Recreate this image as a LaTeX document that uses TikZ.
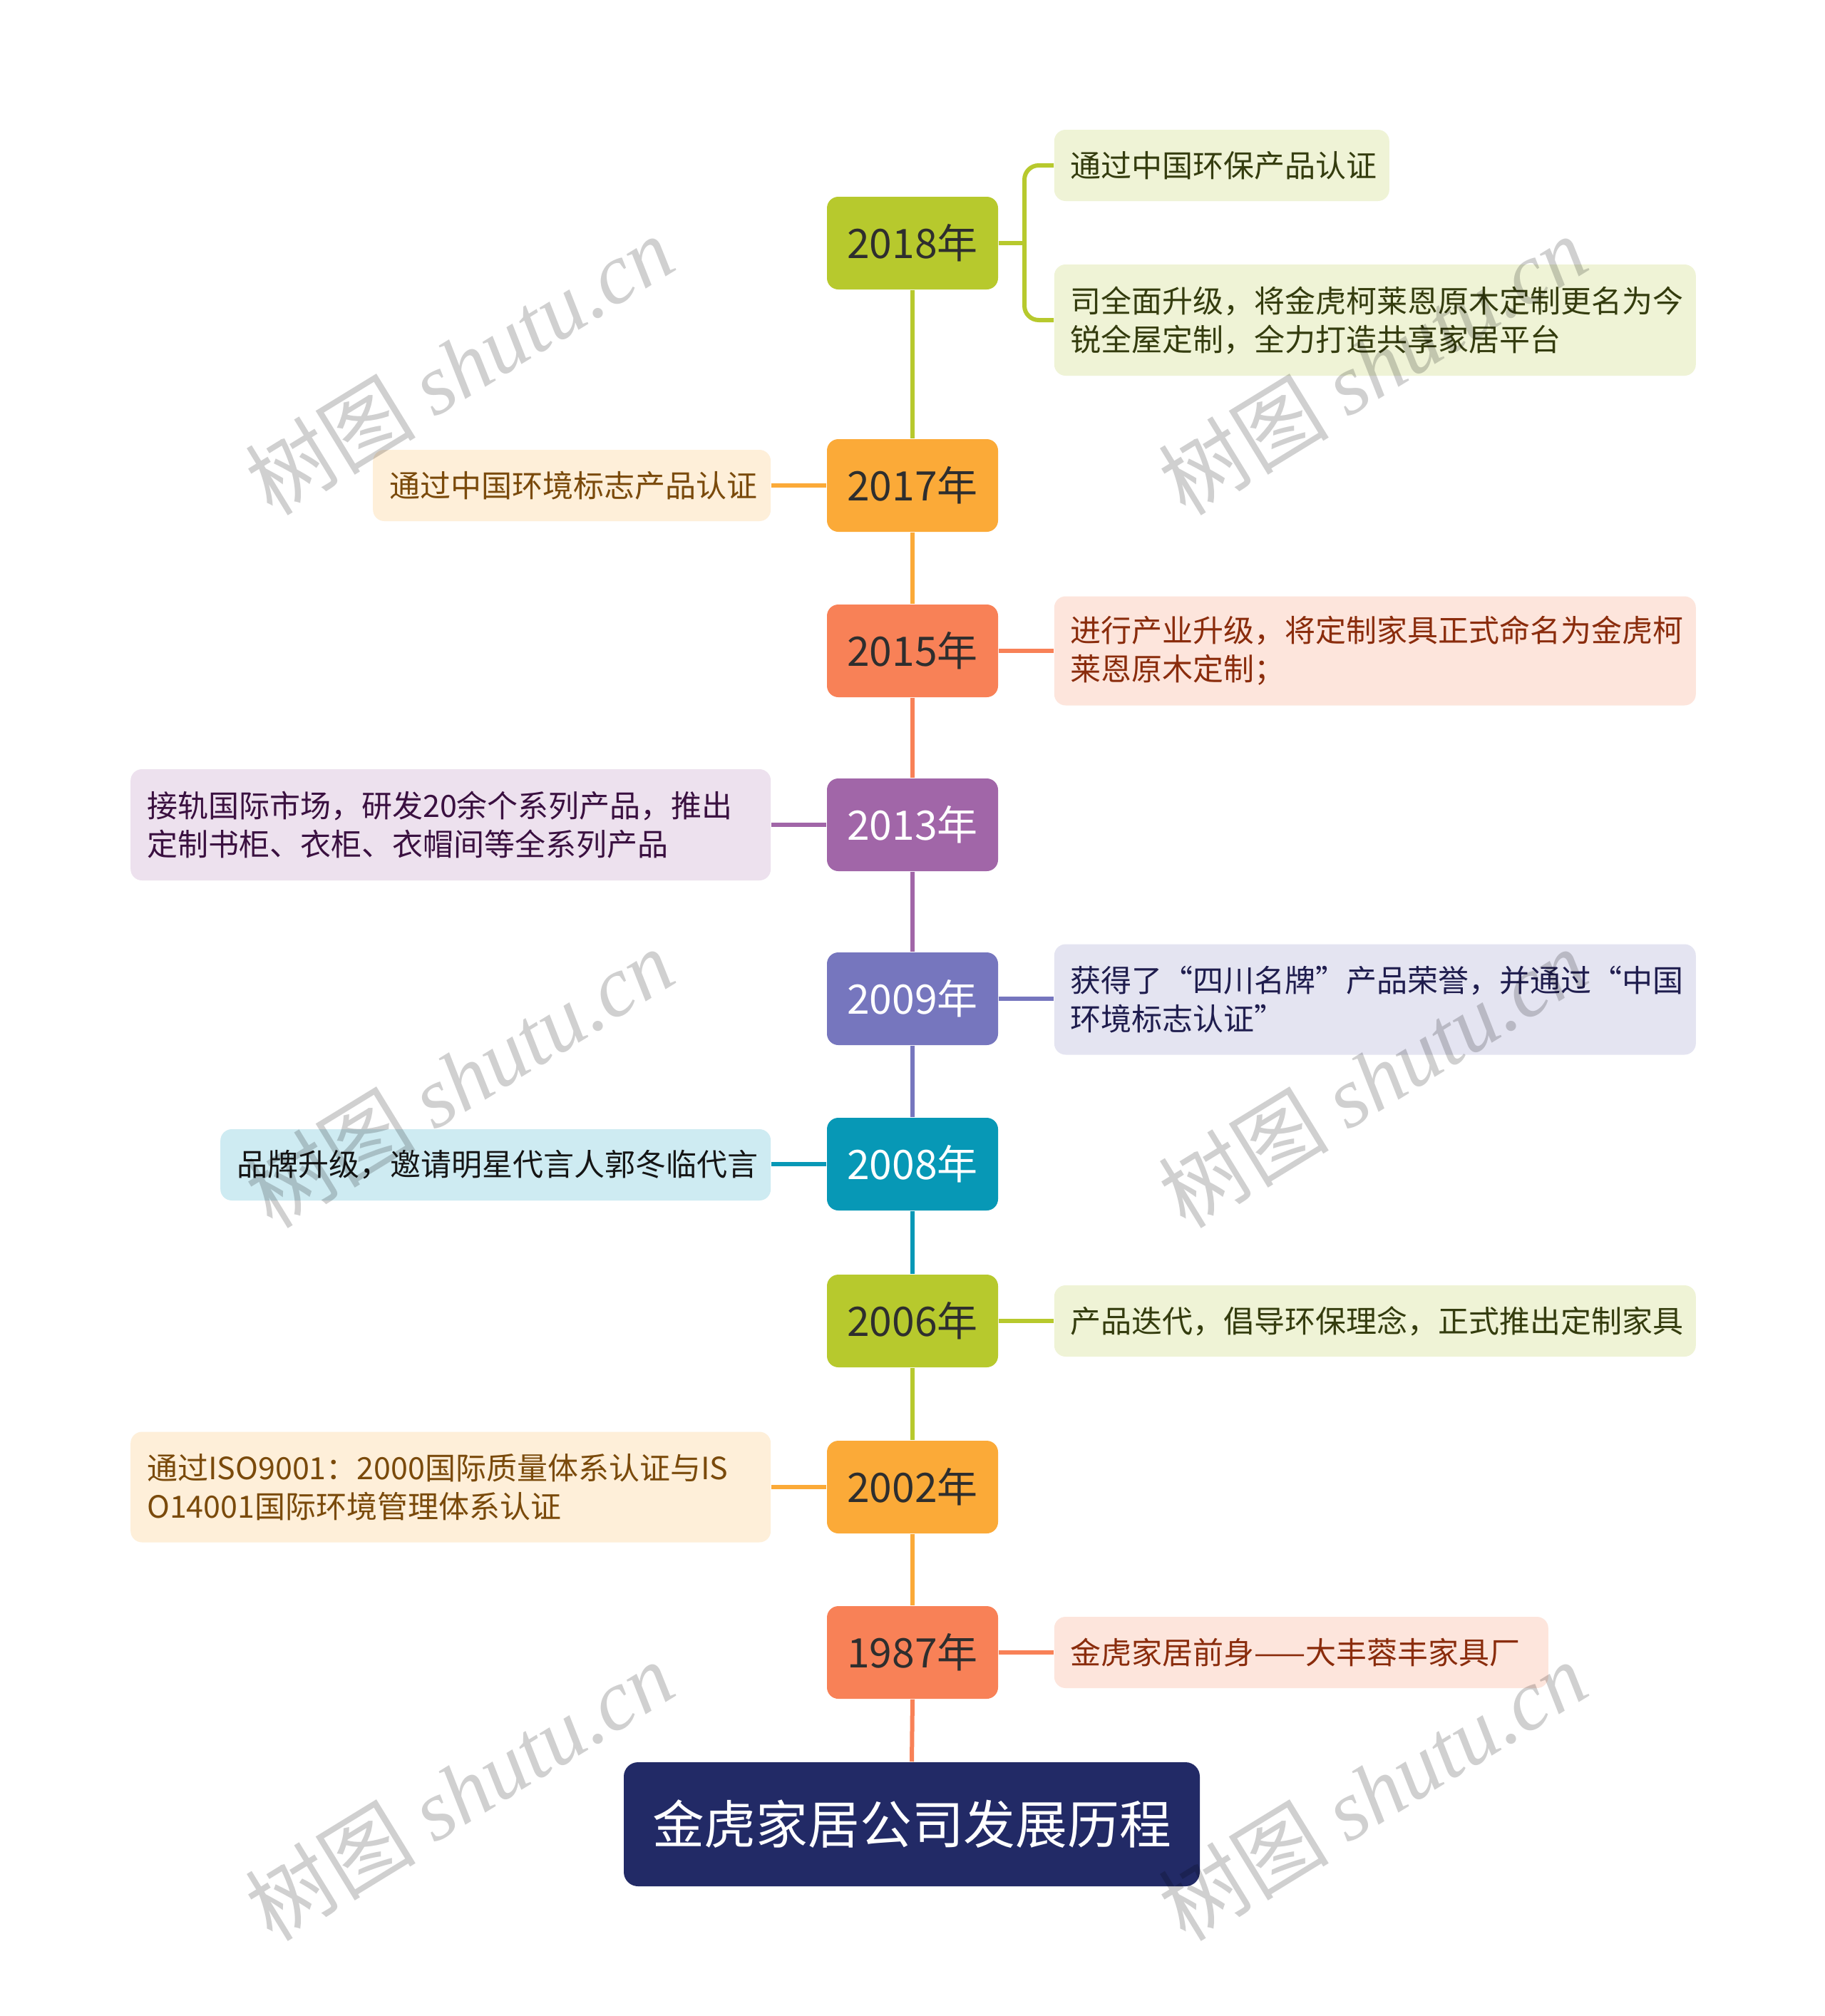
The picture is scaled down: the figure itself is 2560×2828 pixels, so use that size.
\documentclass[tikz,border=0pt]{standalone}
\usepackage{fontspec}
\setmainfont{Noto Sans CJK SC}
\newfontfamily\wmserif{Liberation Serif}
\usetikzlibrary{calc}
\definecolor{cG}{HTML}{B7C92D}
\definecolor{cGl}{HTML}{EFF3D6}
\definecolor{cGt}{HTML}{343C0E}
\definecolor{cO}{HTML}{FBAA38}
\definecolor{cOl}{HTML}{FEEFD9}
\definecolor{cOt}{HTML}{7A4A0B}
\definecolor{cC}{HTML}{F88157}
\definecolor{cCl}{HTML}{FDE5DC}
\definecolor{cCt}{HTML}{8A2C0C}
\definecolor{cP}{HTML}{A166A8}
\definecolor{cPl}{HTML}{EDE1EE}
\definecolor{cPt}{HTML}{3A1040}
\definecolor{cB}{HTML}{7676BE}
\definecolor{cBl}{HTML}{E4E4F1}
\definecolor{cBt}{HTML}{1F1D4E}
\definecolor{cT}{HTML}{0798B6}
\definecolor{cTl}{HTML}{CEEBF2}
\definecolor{cTt}{HTML}{151515}
\definecolor{cRoot}{HTML}{222A66}
\definecolor{ydark}{HTML}{2E2E2E}
\definecolor{wmgray}{HTML}{D0D0D0}
\begin{document}
\begin{tikzpicture}[x=0.25pt,y=-0.25pt,
  yearbox/.style={rounded corners=4pt, minimum width=60pt, minimum height=32.5pt, inner sep=0pt,
    font=\fontsize{14.25pt}{17pt}\selectfont},
  rootbox/.style={rounded corners=5pt, fill=cRoot, text=white, minimum width=202pt, minimum height=43.5pt,
    inner sep=0pt, font=\fontsize{18.2pt}{22pt}\selectfont},
  leafbox/.style={rounded corners=4pt, inner xsep=5.75pt, inner ysep=0pt, align=left,
    font=\fontsize{10.75pt}{13.5pt}\selectfont},
  link/.style={line width=1.5pt},
  wm/.style={text=wmgray, rotate=31.5, inner sep=0pt,
    font=\fontsize{30pt}{32pt}\selectfont},
]
\useasboundingbox[fill=white] (0,0) rectangle (2560,2828);

% year boxes
\node[yearbox, fill=cG, text=ydark] (y18) at (1280,341) {2018年};
\node[yearbox, fill=cO, text=ydark] (y17) at (1280,681) {2017年};
\node[yearbox, fill=cC, text=ydark] (y15) at (1280,913) {2015年};
\node[yearbox, fill=cP, text=white] (y13) at (1280,1157) {2013年};
\node[yearbox, fill=cB, text=white] (y09) at (1280,1401) {2009年};
\node[yearbox, fill=cT, text=white] (y08) at (1280,1633) {2008年};
\node[yearbox, fill=cG, text=ydark] (y06) at (1280,1853) {2006年};
\node[yearbox, fill=cO, text=ydark] (y02) at (1280,2086) {2002年};
\node[yearbox, fill=cC, text=ydark] (y87) at (1280,2318) {1987年};
\node[rootbox] (root) at (1279,2559) {金虎家居公司发展历程};

% leaves
\node[leafbox, fill=cGl, text=cGt, anchor=west, text width=106pt, minimum height=25pt] (l18a) at (1478,232) {\mbox{通过中国环保产品认证}};
\node[leafbox, fill=cGl, text=cGt, anchor=west, text width=213.5pt, minimum height=39pt] (l18b) at (1478,449) {\mbox{司全面升级，将金虎柯莱恩原木定制更名为今}\\\mbox{锐全屋定制，全力打造共享家居平台}};
\node[leafbox, fill=cOl, text=cOt, anchor=east, text width=128pt, minimum height=25pt] (l17) at (1082,681) {\mbox{通过中国环境标志产品认证}};
\node[leafbox, fill=cCl, text=cCt, anchor=west, text width=213.5pt, minimum height=38.25pt] (l15) at (1478,913) {\mbox{进行产业升级，将定制家具正式命名为金虎柯}\\\mbox{莱恩原木定制；}};
\node[leafbox, fill=cPl, text=cPt, anchor=east, text width=213pt, minimum height=39pt] (l13) at (1082,1157) {\mbox{接轨国际市场，研发20余个系列产品，推出}\\\mbox{定制书柜、衣柜、衣帽间等全系列产品}};
\node[leafbox, fill=cBl, text=cBt, anchor=west, text width=213.5pt, minimum height=38.75pt] (l09) at (1478,1402) {\mbox{获得了“四川名牌”产品荣誉，并通过“中国}\\\mbox{环境标志认证”}};
\node[leafbox, fill=cTl, text=cTt, anchor=east, text width=181.5pt, minimum height=25pt] (l08) at (1082,1634) {\mbox{品牌升级，邀请明星代言人郭冬临代言}};
\node[leafbox, fill=cGl, text=cGt, anchor=west, text width=213.5pt, minimum height=25pt] (l06) at (1478,1853) {\mbox{产品迭代，倡导环保理念，正式推出定制家具}};
\node[leafbox, fill=cOl, text=cOt, anchor=east, text width=213pt, minimum height=38.75pt] (l02) at (1082,2086) {\mbox{通过ISO9001：2000国际质量体系认证与IS}\\\mbox{O14001国际环境管理体系认证}};
\node[leafbox, fill=cCl, text=cCt, anchor=west, text width=161.75pt, minimum height=25pt] (l87) at (1478,2318) {\mbox{金虎家居前身——大丰蓉丰家具厂}};

% spine
\draw[link,cG] (y18.south) -- (y17.north);
\draw[link,cO] (y17.south) -- (y15.north);
\draw[link,cC] (y15.south) -- (y13.north);
\draw[link,cP] (y13.south) -- (y09.north);
\draw[link,cB] (y09.south) -- (y08.north);
\draw[link,cT] (y08.south) -- (y06.north);
\draw[link,cG] (y06.south) -- (y02.north);
\draw[link,cO] (y02.south) -- (y87.north);
\draw[link,cC] (y87.south) -- (root.north);

% branches
\coordinate (b18) at (1437,341);
\draw[link,cG] (y18.east) -- (b18);
\draw[link,cG,rounded corners=5pt] (l18a.west) -| (b18) |- (l18b.west);
\draw[link,cO] (y17.west) -- (y17.west -| l17.east);
\draw[link,cC] (y15.east) -- (y15.east -| l15.west);
\draw[link,cP] (y13.west) -- (y13.west -| l13.east);
\draw[link,cB] (y09.east) -- (y09.east -| l09.west);
\draw[link,cT] (y08.west) -- (y08.west -| l08.east);
\draw[link,cG] (y06.east) -- (y06.east -| l06.west);
\draw[link,cO] (y02.west) -- (y02.west -| l02.east);
\draw[link,cC] (y87.east) -- (y87.east -| l87.west);

% watermarks
\begin{scope}[blend mode=multiply]
\node[wm] (wm1) at (644,512) {树图 {\wmserif\itshape shutu.cn}};
\node[wm] (wm2) at (1925,512) {树图 {\wmserif\itshape shutu.cn}};
\node[wm] (wm3) at (644,1512) {树图 {\wmserif\itshape shutu.cn}};
\node[wm] (wm4) at (1925,1512) {树图 {\wmserif\itshape shutu.cn}};
\node[wm] (wm5) at (644,2512) {树图 {\wmserif\itshape shutu.cn}};
\node[wm] (wm6) at (1925,2512) {树图 {\wmserif\itshape shutu.cn}};
\end{scope}
\end{tikzpicture}
\end{document}
